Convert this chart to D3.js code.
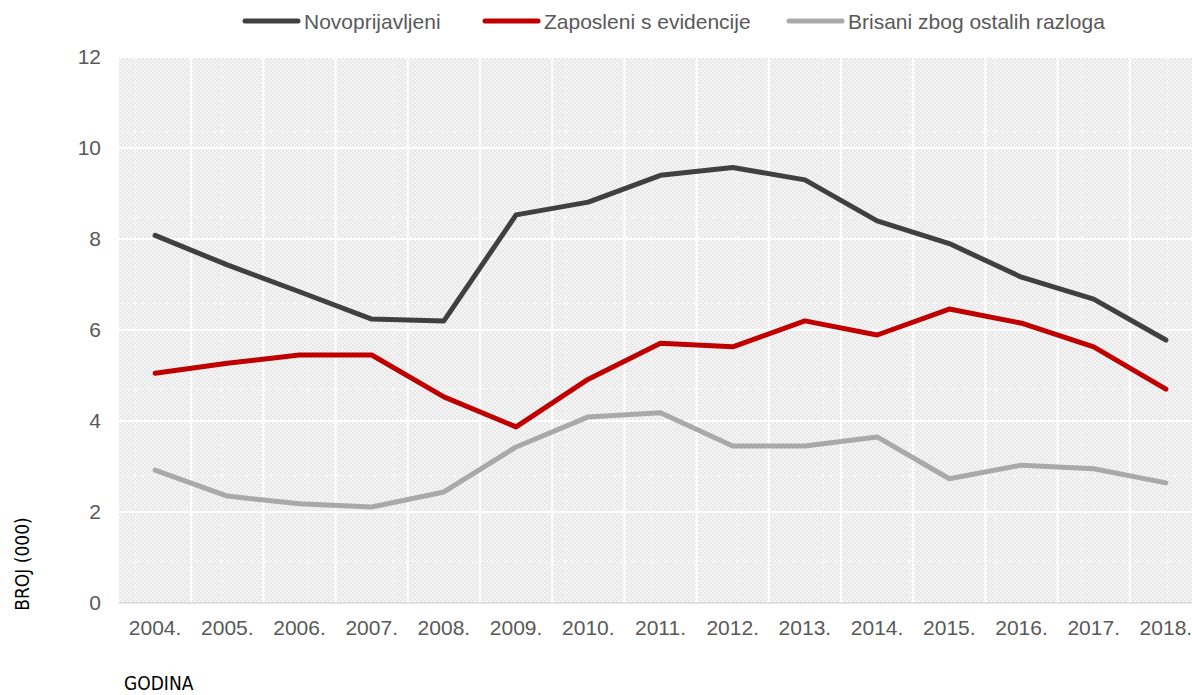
<!DOCTYPE html>
<html>
<head>
<meta charset="utf-8">
<script src="https://cdn.jsdelivr.net/npm/d3@7"></script>
<style>
  body { margin: 0; background: #fff; overflow: hidden; }
  svg { display: block; }
</style>
</head>
<body>
<svg id="chart" width="1192" height="695"></svg>
<script>
var years = ["2004.", "2005.", "2006.", "2007.", "2008.", "2009.", "2010.", "2011.", "2012.", "2013.", "2014.", "2015.", "2016.", "2017.", "2018."];
var novoprijavljeni = [8.08, 7.43, 6.84, 6.24, 6.20, 8.53, 8.81, 9.40, 9.57, 9.30, 8.40, 7.90, 7.16, 6.68, 5.78];
var zaposleni = [5.05, 5.27, 5.45, 5.45, 4.53, 3.87, 4.92, 5.71, 5.63, 6.20, 5.89, 6.46, 6.15, 5.63, 4.70];
var brisani = [2.92, 2.35, 2.18, 2.11, 2.44, 3.43, 4.09, 4.18, 3.45, 3.45, 3.65, 2.73, 3.03, 2.95, 2.64];
var yTicks = [0, 2, 4, 6, 8, 10, 12];

var series = [
  { name: "Novoprijavljeni", values: novoprijavljeni, color: "#404040", lx: 243 },
  { name: "Zaposleni s evidencije", values: zaposleni, color: "#c00000", lx: 483 },
  { name: "Brisani zbog ostalih razloga", values: brisani, color: "#a9a9a9", lx: 787 }
];

var svg = d3.select("#chart");
var pLeft = 119, pRight = 1202, pTop = 57, pBottom = 603;
var font = "Liberation Sans, Arial, sans-serif";

var x = d3.scaleBand().domain(years).range([pLeft, pRight]);
var y = d3.scaleLinear().domain([0, 12]).range([pBottom, pTop]);

var defs = svg.append("defs");
var chk = defs.append("pattern").attr("id", "chk")
  .attr("patternUnits", "userSpaceOnUse").attr("width", 4).attr("height", 4);
chk.append("rect").attr("width", 4).attr("height", 4).attr("fill", "#f5f5f5");
chk.append("rect").attr("width", 2).attr("height", 2).attr("fill", "#e8e8e8");
chk.append("rect").attr("x", 2).attr("y", 2).attr("width", 2).attr("height", 2).attr("fill", "#e8e8e8");

var tex = defs.append("pattern").attr("id", "tex")
  .attr("patternUnits", "userSpaceOnUse").attr("x", 49).attr("y", 45)
  .attr("width", 86).attr("height", 86);
tex.append("line").attr("x1", 0.5).attr("x2", 0.5).attr("y1", 0).attr("y2", 86)
  .attr("stroke", "#fafafa").attr("stroke-dasharray", "3,3");
tex.append("line").attr("y1", 0.5).attr("y2", 0.5).attr("x1", 0).attr("x2", 86)
  .attr("stroke", "#fafafa").attr("stroke-dasharray", "3,3");

svg.append("rect").attr("x", pLeft).attr("y", pTop).attr("width", pRight - pLeft).attr("height", pBottom - pTop)
  .attr("fill", "url(#chk)");
svg.append("rect").attr("x", pLeft).attr("y", pTop).attr("width", pRight - pLeft).attr("height", pBottom - pTop)
  .attr("fill", "url(#tex)");

// grid
svg.append("g").selectAll("line").data(years.slice(1)).join("line")
  .attr("x1", function(d) { return x(d); }).attr("x2", function(d) { return x(d); })
  .attr("y1", pTop).attr("y2", pBottom)
  .attr("stroke", "#fff").attr("stroke-width", 2);
svg.append("g").selectAll("line").data(yTicks.slice(1)).join("line")
  .attr("x1", pLeft).attr("x2", pRight)
  .attr("y1", function(d) { return y(d); }).attr("y2", function(d) { return y(d); })
  .attr("stroke", "#fff").attr("stroke-width", 2);
svg.append("line").attr("x1", pLeft).attr("x2", pRight).attr("y1", pBottom).attr("y2", pBottom)
  .attr("stroke", "#d9d9d9").attr("stroke-width", 1.5);

// axes
var yAxis = svg.append("g").attr("transform", "translate(" + (pLeft - 18) + ",0)")
  .call(d3.axisLeft(y).tickValues(yTicks).tickSize(0).tickPadding(0));
yAxis.select(".domain").remove();
yAxis.selectAll("text").attr("font-family", font)
  .attr("font-size", 21).attr("fill", "#595959");

var xAxis = svg.append("g").attr("transform", "translate(0," + pBottom + ")")
  .call(d3.axisBottom(x).tickSize(0).tickPadding(17));
xAxis.select(".domain").remove();
xAxis.selectAll("text").attr("font-family", font)
  .attr("font-size", 21).attr("fill", "#595959");

// lines
var line = d3.line()
  .x(function(d, i) { return x(years[i]) + x.bandwidth() / 2; })
  .y(function(d) { return y(d); });

series.forEach(function(s) {
  svg.append("path").datum(s.values)
    .attr("d", line)
    .attr("fill", "none")
    .attr("stroke", s.color)
    .attr("stroke-width", 5)
    .attr("stroke-linejoin", "round")
    .attr("stroke-linecap", "round");
});

// legend
series.forEach(function(s) {
  svg.append("line").attr("x1", s.lx + 2).attr("x2", s.lx + 55).attr("y1", 21).attr("y2", 21)
    .attr("stroke", s.color).attr("stroke-width", 5).attr("stroke-linecap", "round");
  svg.append("text").attr("x", s.lx + 61).attr("y", 29)
    .attr("font-family", font).attr("font-size", 21)
    .attr("fill", "#595959").text(s.name);
});

// axis titles
var tFont = "DejaVu Sans Condensed, DejaVu Sans, sans-serif";
svg.append("text").attr("transform", "translate(29,564) rotate(-90)")
  .attr("text-anchor", "middle")
  .attr("font-family", tFont).attr("font-size", 19)
  .attr("fill", "#000").text("BROJ (000)");
svg.append("text").attr("x", 124).attr("y", 690)
  .attr("font-family", tFont).attr("font-size", 19)
  .attr("fill", "#000").text("GODINA");
</script>
</body>
</html>
